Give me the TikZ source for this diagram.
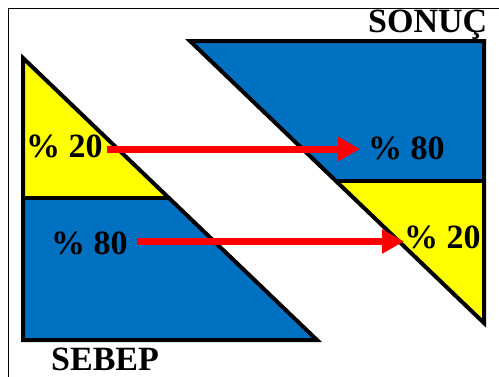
\documentclass[tikz,border=0pt]{standalone}
\usepackage{fontspec}
\setmainfont{Liberation Serif}
\usepackage{tikz}
\usetikzlibrary{arrows.meta}

\definecolor{paretoblue}{RGB}{0,112,192}
\definecolor{paretoyellow}{RGB}{255,255,0}
\definecolor{paretored}{RGB}{255,0,0}

\begin{document}
\begin{tikzpicture}[
    x=1pt, y=-1pt,
    part/.style={line width=4pt, line join=miter},
    pct/.style={font=\bfseries\fontsize{34}{34}\selectfont, inner sep=0pt, anchor=base west},
    redarrow/.style={paretored, line width=7pt,
        -{Triangle[length=22pt, width=23pt]}},
]
    \useasboundingbox (0,0) rectangle (499,376);
    % frame (only left and top show)
    \draw[line width=1pt] (8,390) |- (510,8);

    % SEBEP triangle
    \fill[paretoyellow] (23,58) -- (23,198) -- (169,198) -- cycle;
    \fill[paretoblue] (23,198) -- (23,340) -- (317,340) -- (169,198) -- cycle;
    \draw[part] (23,58) -- (23,340) -- (317,340) -- cycle;
    \draw[part] (23,198) -- (169,198);

    % SONUC triangle
    \fill[paretoblue] (190,41) -- (484,41) -- (484,181) -- (336,181) -- cycle;
    \fill[paretoyellow] (336,181) -- (484,181) -- (484,323) -- cycle;
    \draw[part] (190,41) -- (484,41) -- (484,323) -- cycle;
    \draw[part] (336,181) -- (484,181);

    \node[pct] (l20) at (26,157) {\% 20};
    \node[pct] (l80) at (51,254) {\% 80};
    \node[pct] (r80) at (368,159) {\% 80};
    \node[pct] (r20) at (404,248) {\% 20};
    \node[pct] (sonuc) at (368,32) {SONUÇ};
    \node[pct] (sebep) at (51,370) {SEBEP};

    \draw[redarrow, shorten <=4pt, shorten >=8pt]
        ([yshift=8pt]l20.base east) -- ([yshift=8pt]l20.base east -| r80.west);
    \draw[redarrow, shorten <=9pt]
        ([yshift=12.5pt]l80.base east) -- ([yshift=12.5pt]l80.base east -| r20.west);
\end{tikzpicture}
\end{document}
